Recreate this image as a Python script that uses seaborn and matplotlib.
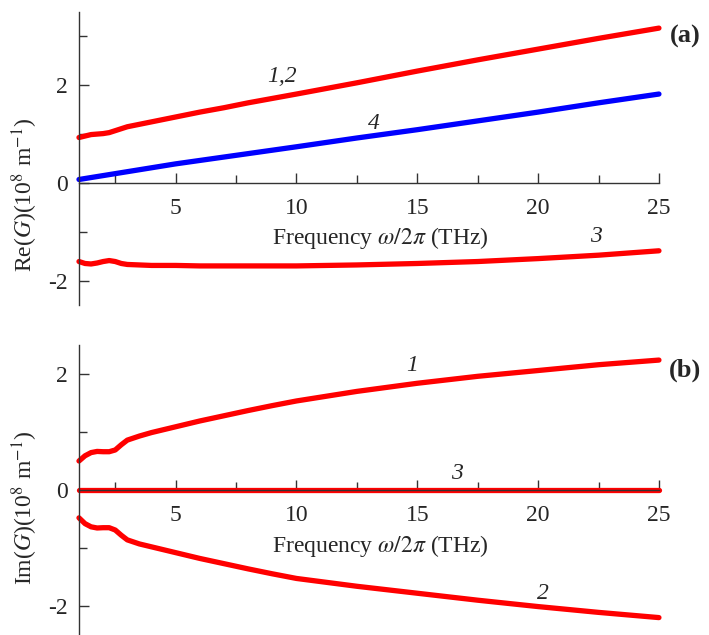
"""Re/Im of G vs frequency, two stacked panels."""
import matplotlib
matplotlib.use("Agg")
import matplotlib.pyplot as plt
from matplotlib.ticker import MultipleLocator
import pandas as pd
import seaborn as sns

# ---- data ----
freq = [1, 1.25, 1.5, 1.75, 2, 2.25, 2.5, 2.75, 3, 3.5, 4, 5, 6, 7, 8, 9,
        10, 12.5, 15, 17.5, 20, 22.5, 25]
re_12 = [0.93, 0.96, 0.99, 1.00, 1.01, 1.03, 1.07, 1.11, 1.15, 1.20, 1.25,
         1.35, 1.45, 1.54, 1.64, 1.73, 1.82, 2.05, 2.29, 2.52, 2.74, 2.96,
         3.17]
re_3 = [-1.61, -1.65, -1.66, -1.64, -1.61, -1.59, -1.61, -1.65, -1.67,
        -1.68, -1.69, -1.69, -1.70, -1.70, -1.70, -1.70, -1.70, -1.68,
        -1.65, -1.61, -1.55, -1.48, -1.39]
re_4 = [0.07, 0.09, 0.11, 0.13, 0.15, 0.17, 0.19, 0.21, 0.23, 0.27, 0.31,
        0.39, 0.46, 0.53, 0.60, 0.67, 0.74, 0.92, 1.09, 1.27, 1.45, 1.64,
        1.82]
im_1 = [0.50, 0.59, 0.645, 0.665, 0.66, 0.66, 0.69, 0.78, 0.86, 0.93, 0.99,
        1.09, 1.19, 1.28, 1.37, 1.455, 1.535, 1.70, 1.84, 1.96, 2.06, 2.16,
        2.24]
im_2 = [-0.48, -0.58, -0.635, -0.655, -0.65, -0.65, -0.69, -0.78, -0.86,
        -0.93, -0.98, -1.08, -1.18, -1.27, -1.36, -1.445, -1.525, -1.66,
        -1.78, -1.90, -2.01, -2.11, -2.20]
im_3 = [0.0] * len(freq)

RED, BLUE = "#ff0000", "#0000ff"

sns.set_theme(style="ticks")
plt.rcParams.update({
    "font.family": ["Liberation Serif", "DejaVu Serif"],
    "mathtext.fontset": "stix",
    "axes.unicode_minus": False,
    "font.size": 17,
})

fig = plt.figure(figsize=(7.09, 6.35), dpi=100)
ax_a = fig.add_axes([0.1114, 0.5197, 0.818, 0.4614])
ax_b = fig.add_axes([0.1114, 0.0, 0.818, 0.4567])

d_a = pd.DataFrame({"f": freq, "r12": re_12, "r3": re_3, "r4": re_4})
d_b = pd.DataFrame({"f": freq, "i1": im_1, "i2": im_2, "i3": im_3})

kw = dict(lw=3.8, solid_capstyle="round", solid_joinstyle="round",
          clip_on=False)
sns.lineplot(data=d_a, x="f", y="r12", ax=ax_a, color=RED, **kw)
sns.lineplot(data=d_a, x="f", y="r3", ax=ax_a, color=RED, **kw)
sns.lineplot(data=d_a, x="f", y="r4", ax=ax_a, color=BLUE, **kw)
sns.lineplot(data=d_b, x="f", y="i1", ax=ax_b, color=RED, **kw)
sns.lineplot(data=d_b, x="f", y="i2", ax=ax_b, color=RED, **kw)
sns.lineplot(data=d_b, x="f", y="i3", ax=ax_b, color=RED, **kw)

ax_a.set_ylim(-2.5, 3.5)
ax_b.set_ylim(-2.5, 2.5)

for ax in (ax_a, ax_b):
    ax.set_xlim(1, 25)
    ax.spines["top"].set_visible(False)
    ax.spines["right"].set_visible(False)
    ax.spines["bottom"].set_position(("data", 0))
    for s in ("bottom", "left"):
        ax.spines[s].set_color("#333333")
        ax.spines[s].set_linewidth(1.0)
    ax.xaxis.set_major_locator(MultipleLocator(5))
    ax.xaxis.set_minor_locator(MultipleLocator(2.5))
    ax.yaxis.set_major_locator(MultipleLocator(2))
    ax.yaxis.set_minor_locator(MultipleLocator(1))
    ax.tick_params(axis="both", which="both", direction="in",
                   color="#333333", width=1.0, labelsize=17)
    ax.tick_params(axis="both", which="major", length=7)
    ax.tick_params(axis="both", which="minor", length=5.5)
    ax.tick_params(axis="x", which="major", pad=11)
    ax.tick_params(axis="y", which="major", pad=8)
    ax.set_xlabel(r"Frequency $\mathit{\omega/2\pi}$ (THz)", fontsize=17)
    ax.set_facecolor("white")

ax_a.xaxis.set_label_coords(0.52, 0.272)
ax_b.xaxis.set_label_coords(0.52, 0.350)
ax_a.set_ylabel(r"Re($G$)(10$^{8}$ m$^{-1}$)", fontsize=17)
ax_b.set_ylabel(r"Im($G$)(10$^{8}$ m$^{-1}$)", fontsize=17)
ax_a.yaxis.set_label_coords(-0.067, 0.375)
ax_b.yaxis.set_label_coords(-0.067, 0.438)

# curve labels
lab = dict(fontsize=17, style="italic", ha="center", va="center")
ax_a.text(9.4, 2.17, "1,2", **lab)
ax_a.text(13.2, 1.22, "4", **lab)
ax_a.text(22.4, -1.09, "3", **lab)
ax_b.text(14.8, 2.15, "1", **lab)
ax_b.text(16.65, 0.29, "3", **lab)
ax_b.text(20.2, -1.78, "2", **lab)

ax_a.text(1.045, 0.915, "(a)", transform=ax_a.transAxes, fontsize=19,
          fontweight="bold", ha="center", va="center")
ax_b.text(1.045, 0.914, "(b)", transform=ax_b.transAxes, fontsize=19,
          fontweight="bold", ha="center", va="center")

fig.savefig("out.png", dpi=100)
